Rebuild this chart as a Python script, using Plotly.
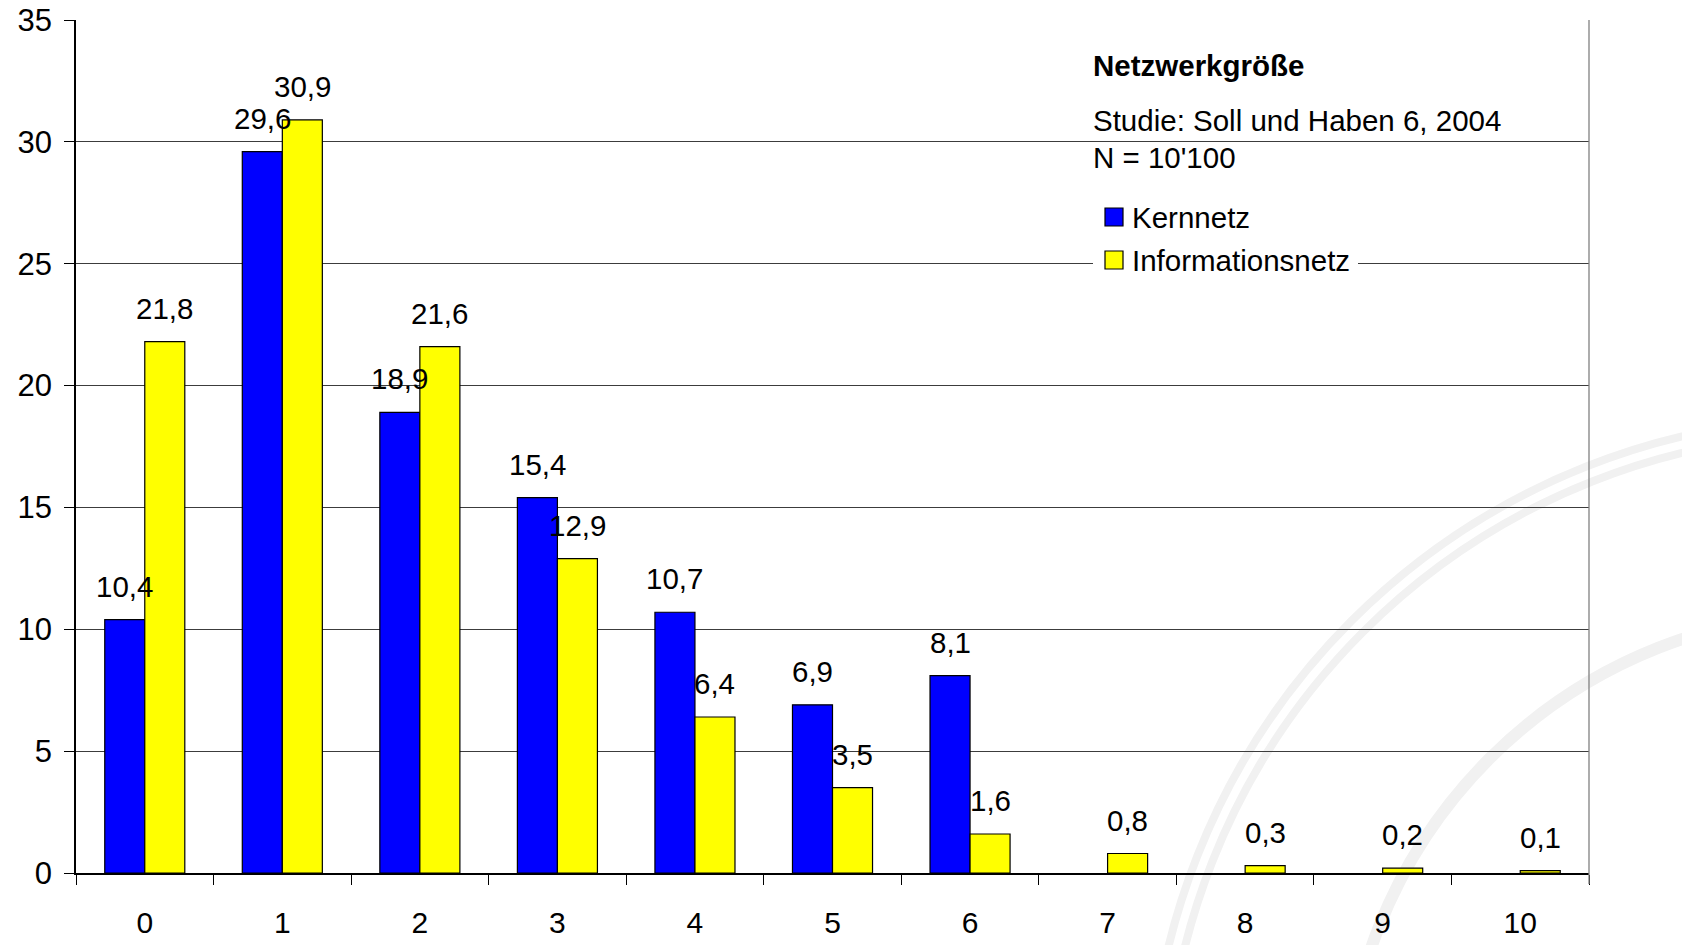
import plotly.graph_objects as go

# Netzwerkgröße: Anteil (%) nach Anzahl der Netzwerkpersonen
categories = ["0", "1", "2", "3", "4", "5", "6", "7", "8", "9", "10"]
kernnetz = [10.4, 29.6, 18.9, 15.4, 10.7, 6.9, 8.1, None, None, None, None]
informationsnetz = [21.8, 30.9, 21.6, 12.9, 6.4, 3.5, 1.6, 0.8, 0.3, 0.2, 0.1]
y_ticks = [0, 5, 10, 15, 20, 25, 30, 35]

FONT = "Liberation Sans, Arial, sans-serif"
FS = 29.5
BLUE = "#0000FF"
YELLOW = "#FFFF00"

# plot area in pixels
L, R, T, B = 76, 1589, 20, 873
PW, PH = R - L, B - T


def fmt(v):
    return f"{v:.1f}".replace(".", ",")


def px(x):
    return (x - L) / PW


def py(y):
    return (B - y) / PH


fig = go.Figure()
fig.add_trace(go.Bar(
    x=categories, y=kernnetz, name="Kernnetz",
    marker=dict(color=BLUE, line=dict(color="black", width=1.2)),
    showlegend=False,
))
fig.add_trace(go.Bar(
    x=categories, y=informationsnetz, name="Informationsnetz",
    marker=dict(color=YELLOW, line=dict(color="black", width=1.2)),
    showlegend=False,
))

annotations = []
# value labels above each bar
for values, shift in ((kernnetz, -20), (informationsnetz, 20)):
    for cat, v in zip(categories, values):
        if v is None:
            continue
        annotations.append(dict(
            x=cat, y=v, xref="x", yref="y", text=fmt(v), showarrow=False,
            xshift=shift, yshift=15, yanchor="bottom",
            font=dict(family=FONT, size=FS, color="black"),
        ))

# title block
annotations += [
    dict(x=px(1091), y=py(65), xref="paper", yref="paper", xanchor="left", yanchor="middle",
         text="<b>Netzwerkgröße</b>", showarrow=False,
         font=dict(family=FONT, size=29.5, color="black")),
    dict(x=px(1091), y=py(120), xref="paper", yref="paper", xanchor="left", yanchor="middle",
         text="Studie: Soll und Haben 6, 2004", showarrow=False,
         font=dict(family=FONT, size=FS, color="black")),
    dict(x=px(1091), y=py(158), xref="paper", yref="paper", xanchor="left", yanchor="middle",
         text="N = 10'100", showarrow=False,
         font=dict(family=FONT, size=FS, color="black")),
]

shapes = []
# faint seal rings in the lower right corner
for r, w in ((692, 8), (676, 8), (497, 12)):
    cx, cy = 1841, 1110
    shapes.append(dict(
        type="circle", xref="paper", yref="paper", layer="below",
        x0=px(cx - r), x1=px(cx + r), y0=py(cy + r), y1=py(cy - r),
        line=dict(color="#f1f1f1", width=w),
    ))

# right border of the plot area
shapes.append(dict(type="line", xref="paper", yref="paper", x0=1, x1=1, y0=py(884), y1=1,
                   line=dict(color="#808080", width=1.3)))

# legend box
legend_items = [("Kernnetz", BLUE, 217), ("Informationsnetz", YELLOW, 260)]
shapes.append(dict(type="rect", xref="paper", yref="paper", layer="above",
                   x0=px(1093), x1=px(1358), y0=py(282), y1=py(196),
                   fillcolor="white", line=dict(width=0)))
for label, color, yc in legend_items:
    shapes.append(dict(type="rect", xref="paper", yref="paper", layer="above",
                       x0=px(1105), x1=px(1123), y0=py(yc + 9), y1=py(yc - 9),
                       fillcolor=color, line=dict(color="black", width=1.2)))
    annotations.append(dict(x=px(1130), y=py(yc), xref="paper", yref="paper",
                            xanchor="left", yanchor="middle", text=label, showarrow=False,
                            font=dict(family=FONT, size=FS, color="black")))

fig.update_layout(
    width=1682, height=945,
    margin=dict(l=L, r=1682 - R, t=T, b=945 - B),
    paper_bgcolor="white", plot_bgcolor="rgba(0,0,0,0)",
    barmode="group", bargap=0.418, bargroupgap=0,
    font=dict(family=FONT, size=FS, color="black"),
    annotations=annotations, shapes=shapes,
    xaxis=dict(
        type="category", categoryorder="array", categoryarray=categories,
        tickson="boundaries", ticks="outside", ticklen=10, tickcolor="black", tickwidth=1.2,
        showline=True, linecolor="black", linewidth=1.5, showgrid=False, automargin=False,
        tickfont=dict(family=FONT, size=30, color="black"), ticklabelstandoff=22,
    ),
    yaxis=dict(
        range=[0, 35], tickvals=y_ticks, ticks="outside", ticklen=10, tickcolor="black",
        tickwidth=1.2, showline=True, linecolor="black", linewidth=1.5, automargin=False,
        showgrid=True, gridcolor="#3c3c3c", gridwidth=1, zeroline=False,
        tickfont=dict(family=FONT, size=31, color="black"), ticklabelstandoff=6,
    ),
)

fig.write_html("out.html")
